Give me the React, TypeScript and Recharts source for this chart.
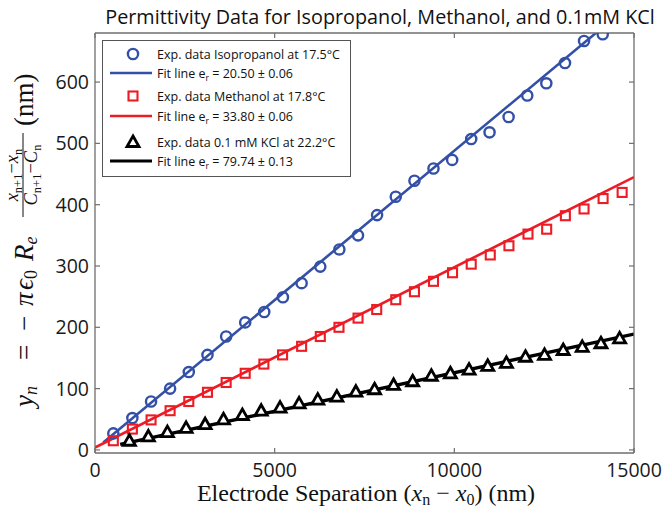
import { ComposedChart, Line, Scatter, XAxis, YAxis } from 'recharts';

// Isopropanol (blue circles)
const isoX = [510, 1040, 1560, 2090, 2610, 3130, 3650, 4180, 4710, 5230, 5750, 6270, 6800, 7320, 7850, 8370, 8890, 9420, 9940, 10470, 10980, 11510, 12030, 12560, 13080, 13610, 14130];
const isoY = [27, 52, 79, 100, 127, 155, 185, 208, 225, 249, 272, 299, 327, 350, 383, 413, 439, 459, 473, 507, 518, 543, 578, 598, 631, 667, 678];

// Methanol (red squares)
const methX = [510, 1040, 1560, 2090, 2610, 3130, 3650, 4180, 4700, 5220, 5750, 6270, 6790, 7320, 7840, 8370, 8890, 9420, 9950, 10470, 11000, 11520, 12050, 12570, 13090, 13610, 14140, 14670];
const methY = [15, 34, 49, 64, 79, 94, 110, 125, 140, 155, 169, 185, 200, 215, 229, 245, 258, 275, 289, 303, 318, 333, 352, 360, 382, 393, 410, 420];

// 0.1 mM KCl (black triangles)
const kclX = [957, 1485, 2015, 2535, 3065, 3575, 4100, 4625, 5150, 5680, 6200, 6730, 7260, 7780, 8310, 8840, 9360, 9890, 10410, 10930, 11450, 11980, 12510, 13030, 13560, 14080, 14600];
const kclY = [15, 22, 29, 36, 42, 50, 57, 64, 69, 76, 82, 87, 95, 99, 106, 112, 121, 125, 131, 137, 142, 152, 155, 163, 168, 174, 182];

// fit line end points
const isoFitX = [230, 13940];
const isoFitY = [12, 680];
const methFitX = [0, 15000];
const methFitY = [4, 445];
const kclFitX = [700, 15000];
const kclFitY = [9, 189];

const xTicks = [0, 5000, 10000, 15000];
const yTicks = [0, 100, 200, 300, 400, 500, 600];

const legendRows = [
  { kind: 'circle', label: 'Exp. data Isopropanol at 17.5\u00b0C' },
  { kind: 'line', color: 'blue', er: '20.50', err: '0.06' },
  { kind: 'square', label: 'Exp. data Methanol at 17.8\u00b0C' },
  { kind: 'line', color: 'red', er: '33.80', err: '0.06' },
  { kind: 'triangle', label: 'Exp. data 0.1 mM KCl at 22.2\u00b0C' },
  { kind: 'line', color: 'black', er: '79.74', err: '0.13' },
];

const BLUE = '#3450a6';
const RED = '#ec1c24';
const BLACK = '#000000';
const AXIS = '#6e6e6e';
const SANS = "'Open Sans', 'Noto Sans', sans-serif";
const SERIF = "'Liberation Serif', 'DejaVu Serif', serif";

const pts = (xs: number[], ys: number[]) => xs.map((x, i) => ({ x, y: ys[i] }));

const Circle = ({ cx, cy }: any) => <circle cx={cx} cy={cy} r={5.1} fill="none" stroke={BLUE} strokeWidth={2.4} />;
const Square = ({ cx, cy }: any) => <rect x={cx - 4.5} y={cy - 4.5} width={9} height={9} fill="none" stroke={RED} strokeWidth={2.1} />;
const Triangle = ({ cx, cy }: any) => (
  <polygon points={`${cx},${cy - 6} ${cx + 6},${cy + 4.5} ${cx - 6},${cy + 4.5}`} fill="#fff" stroke={BLACK} strokeWidth={2.8} strokeLinejoin="miter" />
);

const BottomTick = ({ x, y, payload }: any) => (
  <g>
    <line x1={x} x2={x} y1={y} y2={y - 5} stroke={AXIS} strokeWidth={1.2} />
    <text x={x} y={y + 24} textAnchor="middle" fontFamily={SANS} fontSize={19.5} fill="#1a1a1a">{payload.value}</text>
  </g>
);
const TopTick = ({ x, y }: any) => <line x1={x} x2={x} y1={y} y2={y + 5} stroke={AXIS} strokeWidth={1.2} />;
const LeftTick = ({ x, y, payload }: any) => (
  <g>
    <line x1={x} x2={x + 5} y1={y} y2={y} stroke={AXIS} strokeWidth={1.2} />
    <text x={x - 6} y={y + 7} textAnchor="end" fontFamily={SANS} fontSize={19.5} fill="#1a1a1a">{payload.value}</text>
  </g>
);
const RightTick = ({ x, y }: any) => <line x1={x} x2={x - 5} y1={y} y2={y} stroke={AXIS} strokeWidth={1.2} />;

function LegendBox() {
  const rowY = [14, 33, 56, 76, 102, 121];
  const colorOf: Record<string, string> = { blue: BLUE, red: RED, black: BLACK };
  return (
    <g transform="translate(102,40)">
      <rect x={0.5} y={0.5} width={248} height={136} fill="#fff" stroke="#555" strokeWidth={1} />
      {legendRows.map((r, i) => {
        const y = rowY[i];
        let mark = null;
        if (r.kind === 'circle') mark = <Circle cx={31} cy={y} />;
        if (r.kind === 'square') mark = <Square cx={31} cy={y} />;
        if (r.kind === 'triangle') mark = <Triangle cx={31} cy={y} />;
        if (r.kind === 'line') {
          const c = colorOf[r.color as string];
          mark = <line x1={8} x2={50} y1={y} y2={y} stroke={c} strokeWidth={r.color === 'black' ? 3 : 2.5} />;
        }
        return (
          <g key={i}>
            {mark}
            {r.kind === 'line' ? (
              <text x={55} y={y + 4.5} fontFamily={SANS} fontSize={12.5} fill="#111">
                {'Fit line  e'}
                <tspan fontSize={8.5} dy={3}>r</tspan>
                <tspan dy={-3}>{` = ${r.er} \u00b1 ${r.err}`}</tspan>
              </text>
            ) : (
              <text x={55} y={y + 4.5} fontFamily={SANS} fontSize={12.5} fill="#111">{r.label}</text>
            )}
          </g>
        );
      })}
    </g>
  );
}

export default function App() {
  return (
    <div style={{ position: 'absolute', left: 0, top: 0, width: 662, height: 512, background: '#fff' }}>
      <ComposedChart width={662} height={512} margin={{ top: 0, right: 0, bottom: 0, left: 35 }}>
        <XAxis xAxisId="b" type="number" dataKey="x" orientation="bottom" domain={[0, 15000]} ticks={xTicks} interval={0}
          allowDataOverflow height={59} tickSize={0} tickMargin={0} tickLine={false} tick={BottomTick}
          axisLine={{ stroke: AXIS, strokeWidth: 1.3 }} />
        <XAxis xAxisId="t" type="number" dataKey="x" orientation="top" domain={[0, 15000]} ticks={xTicks} interval={0}
          allowDataOverflow height={33} tickSize={0} tickMargin={0} tickLine={false} tick={TopTick}
          axisLine={{ stroke: AXIS, strokeWidth: 1.3 }} />
        <YAxis yAxisId="l" type="number" dataKey="y" orientation="left" domain={[-5, 680]} ticks={yTicks} interval={0}
          allowDataOverflow width={60} tickSize={0} tickMargin={0} tickLine={false} tick={LeftTick}
          axisLine={{ stroke: AXIS, strokeWidth: 1.3 }} />
        <YAxis yAxisId="r" type="number" dataKey="y" orientation="right" domain={[-5, 680]} ticks={yTicks} interval={0}
          allowDataOverflow width={28} tickSize={0} tickMargin={0} tickLine={false} tick={RightTick}
          axisLine={{ stroke: AXIS, strokeWidth: 1.3 }} />

        <Line xAxisId="b" yAxisId="l" data={pts(isoFitX, isoFitY)} dataKey="y" type="linear" stroke={BLUE} strokeWidth={2.6} dot={false} isAnimationActive={false} />
        <Line xAxisId="b" yAxisId="l" data={pts(methFitX, methFitY)} dataKey="y" type="linear" stroke={RED} strokeWidth={2.6} dot={false} isAnimationActive={false} />
        <Line xAxisId="b" yAxisId="l" data={pts(kclFitX, kclFitY)} dataKey="y" type="linear" stroke={BLACK} strokeWidth={3.4} dot={false} isAnimationActive={false} />
        <Scatter xAxisId="b" yAxisId="l" data={pts(isoX, isoY)} dataKey="y" shape={Circle} isAnimationActive={false} />
        <Scatter xAxisId="b" yAxisId="l" data={pts(methX, methY)} dataKey="y" shape={Square} isAnimationActive={false} />
        <Scatter xAxisId="b" yAxisId="l" data={pts(kclX, kclY)} dataKey="y" shape={Triangle} isAnimationActive={false} />
      </ComposedChart>

      <svg width={662} height={512} style={{ position: 'absolute', left: 0, top: 0, pointerEvents: 'none' }}>
        <LegendBox />
        <text x={380} y={24} textAnchor="middle" fontFamily={SANS} fontSize={19.8} fill="#111">
          Permittivity Data for Isopropanol, Methanol, and 0.1mM KCl
        </text>
        <text x={366} y={501} textAnchor="middle" fontFamily={SERIF} fontSize={24} fill="#111">
          {'Electrode Separation ('}
          <tspan fontStyle="italic">x</tspan>
          <tspan fontSize={16} dy={4}>n</tspan>
          <tspan dy={-4}>{' \u2212 '}</tspan>
          <tspan fontStyle="italic">x</tspan>
          <tspan fontSize={16} dy={4}>0</tspan>
          <tspan dy={-4}>{')  (nm)'}</tspan>
        </text>
        <g transform="translate(33,240) rotate(-90)" fontFamily={SERIF} fill="#111">
          <text x={-167} y={0} fontSize={27}>
            <tspan fontStyle="italic">y</tspan>
            <tspan fontStyle="italic" fontSize={18} dy={4}>n</tspan>
          </text>
          <text x={-120} y={0} fontSize={27}>=</text>
          <text x={-91} y={0} fontSize={27}>{'\u2212'}</text>
          <text x={-66} y={0} fontSize={27} fontStyle="italic">{'\u03c0'}</text>
          <text x={-50} y={0} fontSize={27}>
            <tspan fontStyle="italic">{'\u03f5'}</tspan>
            <tspan fontSize={18} dy={4}>0</tspan>
          </text>
          <text x={-21} y={0} fontSize={27}>
            <tspan fontStyle="italic">R</tspan>
            <tspan fontStyle="italic" fontSize={18} dy={4}>e</tspan>
          </text>
          <text x={65} y={-15} textAnchor="middle" fontSize={18.5}>
            <tspan fontStyle="italic">x</tspan>
            <tspan fontSize={12.5} dy={3.5}>n+1</tspan>
            <tspan dy={-3.5}>{'\u2212'}</tspan>
            <tspan fontStyle="italic">x</tspan>
            <tspan fontSize={12.5} dy={3.5}>n</tspan>
          </text>
          <line x1={23} x2={107} y1={-10} y2={-10} stroke="#111" strokeWidth={1} />
          <text x={65} y={4} textAnchor="middle" fontSize={18.5}>
            <tspan fontStyle="italic">C</tspan>
            <tspan fontSize={12.5} dy={3.5}>n+1</tspan>
            <tspan dy={-3.5}>{'\u2212'}</tspan>
            <tspan fontStyle="italic">C</tspan>
            <tspan fontSize={12.5} dy={3.5}>n</tspan>
          </text>
          <text x={114} y={0} fontSize={27}>(nm)</text>
        </g>
      </svg>
    </div>
  );
}
